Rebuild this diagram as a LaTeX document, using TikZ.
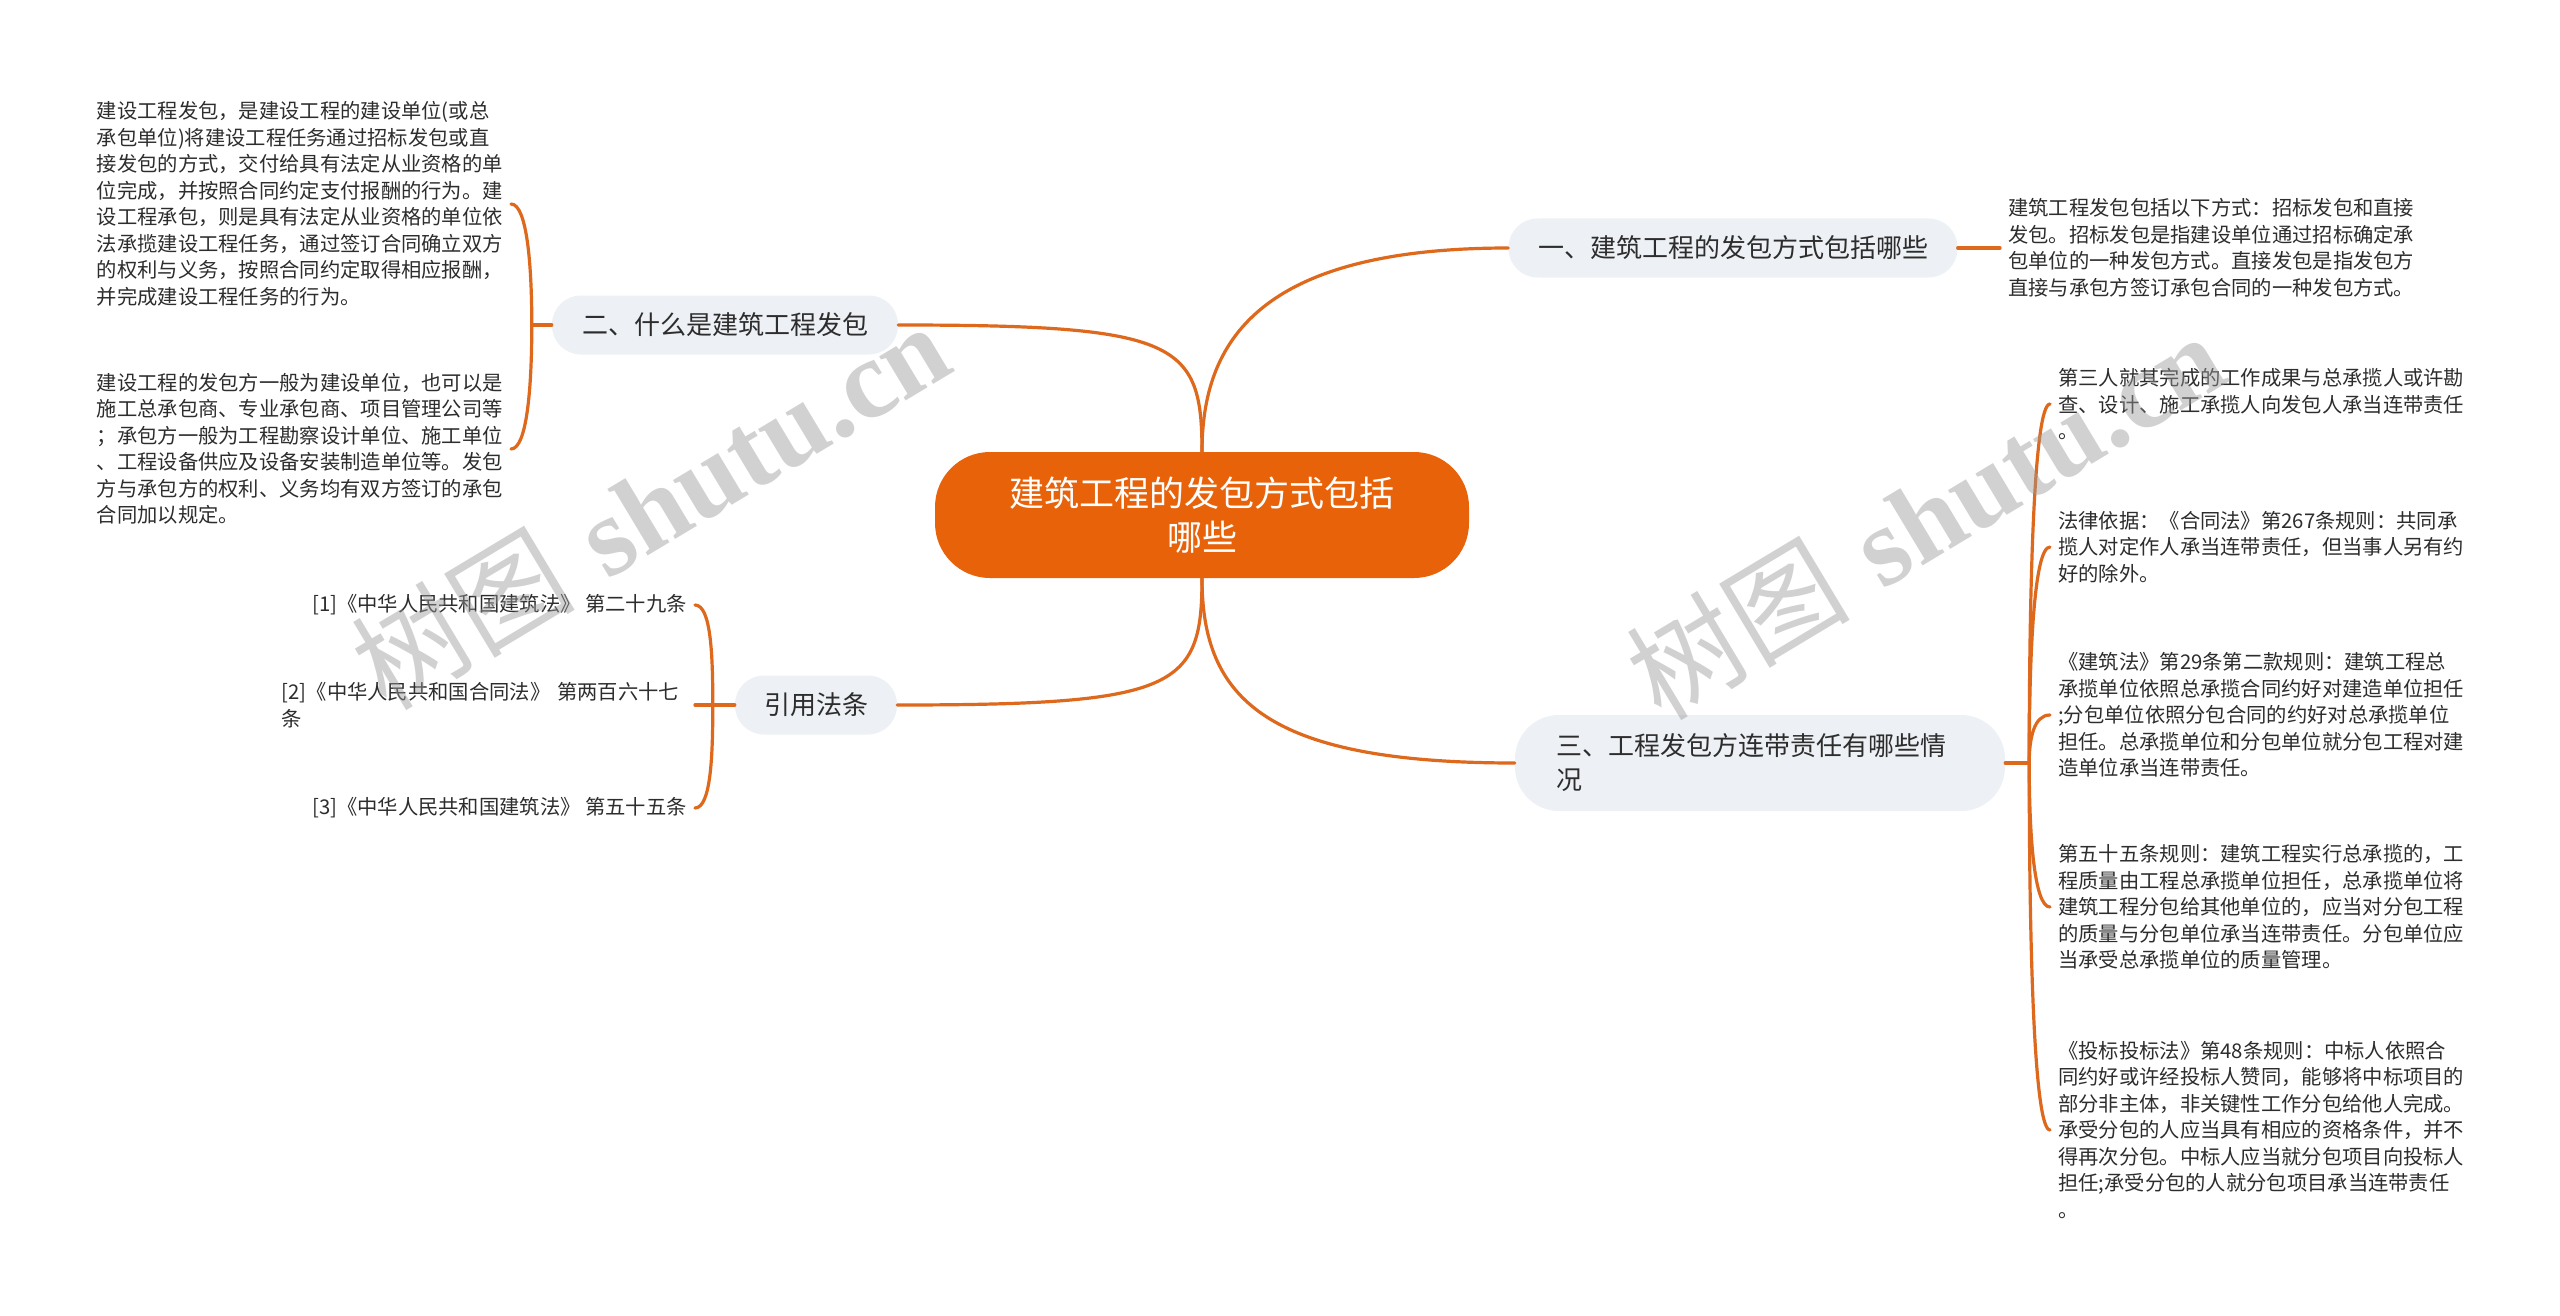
\documentclass[tikz,border=0pt]{standalone}
\usepackage{fontspec}
\newfontfamily\cjk{Noto Sans CJK SC}
\newfontfamily\wmlatin{Liberation Serif}
\usetikzlibrary{calc}
\definecolor{rootfill}{RGB}{232,98,10}
\definecolor{linkcol}{RGB}{222,104,28}
\definecolor{branchfill}{RGB}{237,240,244}
\definecolor{textcol}{RGB}{45,45,45}

\begin{document}
\begin{tikzpicture}[
  x=1pt, y=-1pt,
  root/.style={
    fill=rootfill,
    text=white,
    rounded corners=55pt,
    minimum width=534pt,
    minimum height=126pt,
    inner sep=0pt,
    align=center,
    font=\cjk\fontsize{35}{44}\selectfont
  },
  branch/.style={
    fill=branchfill,
    text=textcol,
    rounded corners=29pt,
    minimum height=59pt,
    inner xsep=29pt,
    inner ysep=0pt,
    align=left,
    font=\cjk\fontsize{26}{34}\selectfont
  },
  leaf/.style={
    text=textcol,
    inner xsep=8pt,
    inner ysep=2pt,
    align=left,
    font=\cjk\fontsize{20.3}{26.5}\selectfont
  },
  link/.style={draw=linkcol, line width=3.2pt, line cap=round},
  watermark/.style={text=black!40, text opacity=0.45, rotate=31, font=\fontsize{112}{112}\selectfont}
]
\useasboundingbox (0,0) rectangle (2560,1316);
\fill[white] (0,0) rectangle (2560,1316);

\node[root] (root) at (1202,515) {建筑工程的发包方式包括\\哪些};

\node[branch, minimum width=449pt] (b1) at (1733,248) {一、建筑工程的发包方式包括哪些};
\node[branch, minimum width=346pt] (b2) at (725,325) {二、什么是建筑工程发包};
\node[branch, minimum width=490pt, minimum height=96pt, text width=408pt, rounded corners=44pt] (b3) at (1760,763) {三、工程发包方连带责任有哪些情\\况};
\node[branch, minimum width=162pt] (b4) at (816,705) {引用法条};

\node[leaf, anchor=west] (l1) at (2000,248) {建筑工程发包包括以下方式：招标发包和直接\\发包。招标发包是指建设单位通过招标确定承\\包单位的一种发包方式。直接发包是指发包方\\直接与承包方签订承包合同的一种发包方式。};

\node[leaf, anchor=east] (l21) at (511,204) {建设工程发包，是建设工程的建设单位(或总\\承包单位)将建设工程任务通过招标发包或直\\接发包的方式，交付给具有法定从业资格的单\\位完成，并按照合同约定支付报酬的行为。建\\设工程承包，则是具有法定从业资格的单位依\\法承揽建设工程任务，通过签订合同确立双方\\的权利与义务，按照合同约定取得相应报酬，\\并完成建设工程任务的行为。};
\node[leaf, anchor=east] (l22) at (511,449) {建设工程的发包方一般为建设单位，也可以是\\施工总承包商、专业承包商、项目管理公司等\\；承包方一般为工程勘察设计单位、施工单位\\、工程设备供应及设备安装制造单位等。发包\\方与承包方的权利、义务均有双方签订的承包\\合同加以规定。};

\node[leaf, anchor=east] (l41) at (695,605) {[1]《中华人民共和国建筑法》 第二十九条};
\node[leaf, anchor=east, text width=405pt] (l42) at (695,705) {[2]《中华人民共和国合同法》 第两百六十七\\条};
\node[leaf, anchor=east] (l43) at (695,808) {[3]《中华人民共和国建筑法》 第五十五条};

\node[leaf, anchor=west] (l31) at (2050,404) {第三人就其完成的工作成果与总承揽人或许勘\\查、设计、施工承揽人向发包人承当连带责任\\。};
\node[leaf, anchor=west] (l32) at (2050,547) {法律依据：《合同法》第267条规则：共同承\\揽人对定作人承当连带责任，但当事人另有约\\好的除外。};
\node[leaf, anchor=west] (l33) at (2050,715) {《建筑法》第29条第二款规则：建筑工程总\\承揽单位依照总承揽合同约好对建造单位担任\\;分包单位依照分包合同的约好对总承揽单位\\担任。总承揽单位和分包单位就分包工程对建\\造单位承当连带责任。};
\node[leaf, anchor=west] (l34) at (2050,907) {第五十五条规则：建筑工程实行总承揽的，工\\程质量由工程总承揽单位担任，总承揽单位将\\建筑工程分包给其他单位的，应当对分包工程\\的质量与分包单位承当连带责任。分包单位应\\当承受总承揽单位的质量管理。};
\node[leaf, anchor=west] (l35) at (2050,1130) {《投标投标法》第48条规则：中标人依照合\\同约好或许经投标人赞同，能够将中标项目的\\部分非主体，非关键性工作分包给他人完成。\\承受分包的人应当具有相应的资格条件，并不\\得再次分包。中标人应当就分包项目向投标人\\担任;承受分包的人就分包项目承当连带责任\\。};

\coordinate (j2) at ($(b2.west)+(-20,0)$);
\coordinate (j3) at ($(b3.east)+(24,0)$);
\coordinate (j4) at ($(b4.west)+(-22,0)$);

\draw[link] (root.north) .. controls +(0,-110) and +(-250,0) .. (b1.west);
\draw[link] (root.north) .. controls +(0,-110) and +(280,0) .. (b2.east);
\draw[link] (root.south) .. controls +(0,110) and +(280,0) .. (b4.east);
\draw[link] (root.south) .. controls +(0,120) and +(-250,0) .. (b3.west);

\draw[link] (b1.east) -- (l1.west);
\draw[link] (b2.west) -- (j2);
\draw[link] (b3.east) -- (j3);
\draw[link] (b4.west) -- (j4);
\foreach \leaf/\dy in {l21/-60, l22/62}
  \draw[link] (j2) .. controls +(0,\dy) and +(16,0) .. (\leaf.east);
\foreach \leaf/\dy in {l41/-50, l42/0, l43/50}
  \draw[link] (j4) .. controls +(0,\dy) and +(16,0) .. (\leaf.east);
\foreach \leaf/\dy in {l31/-180, l32/-109, l33/-25, l34/71, l35/182}
  \draw[link] (j3) .. controls +(0,\dy) and +(-16,0) .. (\leaf.west);

\node[watermark] (wm1) at (650,505) {{\cjk 树图} {\wmlatin\bfseries shutu.cn}};
\node[watermark] (wm2) at (1925,515) {{\cjk 树图} {\wmlatin\bfseries shutu.cn}};
\end{tikzpicture}
\end{document}
